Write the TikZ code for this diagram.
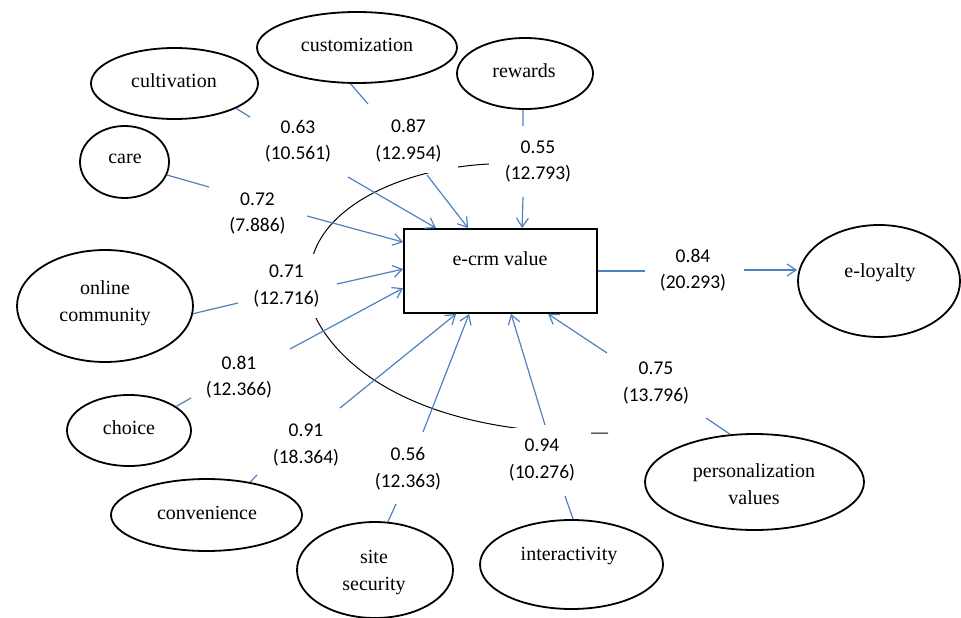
\documentclass[tikz,border=0pt]{standalone}
\usepackage{fontspec}
\setmainfont{Liberation Serif}
\newfontfamily\labfont{Carlito}
\usetikzlibrary{shapes.geometric,arrows.meta,calc}
\definecolor{pathblue}{RGB}{79,129,189}
\begin{document}
\begin{tikzpicture}[x=1pt,y=-1pt,
  latent/.style={ellipse,draw=black,line width=1.8pt,inner sep=0pt},
  ltext/.style={inner sep=0pt,align=center,font=\fontsize{20}{27}\selectfont},
  coef/.style={fill=white,inner xsep=16pt,inner ysep=11pt,align=center,
    font=\labfont\fontsize{19.5}{26.5}\selectfont},
  seg/.style={draw=pathblue,line width=1.2pt},
  effect/.style={seg,-{Straight Barb[length=9pt,width=12pt]}},
  covarc/.style={draw=black,line width=1pt}]
\useasboundingbox (0,0) rectangle (961,618);

% covariance arc (partly hidden by the coefficient labels)
\draw[covarc] (489,164) .. controls (410,168) and (335,200) .. (315,250)
  .. controls (307,270) and (307,302) .. (318,322)
  .. controls (350,380) and (440,436) .. (608,433);

% coefficient labels
\node[coef] (l63) at (298,141.5) {0.63\\(10.561)};
\node[coef] (l87) at (408.5,140.5) {0.87\\(12.954)};
\node[coef] (l55) at (538,161.5) {0.55\\(12.793)};
\node[coef] (l72) at (257.5,213.5) {0.72\\(7.886)};
\node[coef] (l71) at (286.5,286) {0.71\\(12.716)};
\node[coef] (l84) at (693,270) {0.84\\(20.293)};
\node[coef] (l81) at (239,377) {0.81\\(12.366)};
\node[coef] (l91) at (306,445) {0.91\\(18.364)};
\node[coef] (l56) at (408,469) {0.56\\(12.363)};
\node[coef] (l94) at (542,460) {0.94\\(10.276)};
\node[coef] (l75) at (656,383) {0.75\\(13.796)};

% latent variables
\node[latent,minimum width=200pt,minimum height=71pt] (cust) at (357,47.5) {};
\node[latent,minimum width=167pt,minimum height=71pt] (cult) at (174.5,83.5) {};
\node[latent,minimum width=89pt,minimum height=72pt] (care) at (124.5,162) {};
\node[latent,minimum width=136pt,minimum height=71pt] (rew) at (525,73.5) {};
\node[latent,minimum width=176pt,minimum height=112pt] (onl) at (105,306) {};
\node[latent,minimum width=124pt,minimum height=71pt] (cho) at (129,430.5) {};
\node[latent,minimum width=191pt,minimum height=72pt] (conv) at (206.5,515) {};
\node[latent,minimum width=156pt,minimum height=96pt] (site) at (375,570) {};
\node[latent,minimum width=183pt,minimum height=89pt] (inter) at (571.5,564.5) {};
\node[latent,minimum width=219pt,minimum height=96pt] (pers) at (754.5,482) {};
\node[latent,minimum width=162pt,minimum height=112pt] (eloy) at (879,281) {};

\node[ltext] (custt) at (357,44.5) {customization};
\node[ltext] (cultt) at (174,80.5) {cultivation};
\node[ltext] (caret) at (125,158.5) {care};
\node[ltext] (rewt) at (524,70.5) {rewards};
\node[ltext] (onlt) at (105,303) {online\\community};
\node[ltext] (chot) at (129,427.5) {choice};
\node[ltext] (convt) at (207,512.5) {convenience};
\node[ltext] (sitet) at (374,573) {site\\security};
\node[ltext] (intert) at (569,556.5) {interactivity};
\node[ltext] (perst) at (754,484) {personalization\\values};
\node[ltext] (eloyt) at (880,272.5) {e-loyalty};

% e-crm value box
\node[draw=black,line width=1.8pt,minimum width=193pt,minimum height=84pt,inner sep=0pt] (crm) at (500.5,271) {};
\node[ltext] (crmt) at (500,259) {e-crm value};

% free ends of the broken paths
\coordinate (a63) at (250,117);   \coordinate (b63) at (348,177);
\coordinate (a87) at (368,104);   \coordinate (b87) at (427,175);
\coordinate (a55) at (523,126);   \coordinate (b55) at (523,197);
\coordinate (a72) at (209,187);   \coordinate (b72) at (307,216);
\coordinate (a71) at (238,303);   \coordinate (b71) at (337,284);
\coordinate (a81) at (191,398);   \coordinate (b81) at (290,349);
\coordinate (a91) at (257,475);   \coordinate (b91) at (340,408);
\coordinate (a56) at (396,504);   \coordinate (b56) at (423,432);
\coordinate (a94) at (565,496);   \coordinate (b94) at (545,425);
\coordinate (a75) at (706,418);   \coordinate (b75) at (607,353);
\coordinate (a84) at (645,271);   \coordinate (b84) at (744,270);

% paths
\draw[seg] (cult.338) -- (a63);  \draw[effect] (b63) -- ($(crm.north west)+(33,0)$);
\draw[seg] (cust.260) -- (a87);  \draw[effect] (b87) -- ($(crm.north west)+(65,0)$);
\draw[seg] (rew.267) -- (a55);   \draw[effect] (b55) -- ($(crm.north west)+(119,0)$);
\draw[seg] (care.343) -- (a72);  \draw[effect] (b72) -- ($(crm.north west)+(0,14)$);
\draw[seg] (onl.355) -- (a71);   \draw[effect] (b71) -- ($(crm.north west)+(0,41)$);
\draw[seg] (cho.27) -- (a81);    \draw[effect] (b81) -- ($(crm.north west)+(0,60)$);
\draw[seg] (conv.37) -- (a91);   \draw[effect] (b91) -- ($(crm.south west)+(53,0)$);
\draw[seg] (site.75) -- (a56);   \draw[effect] (b56) -- ($(crm.south west)+(66,0)$);
\draw[seg] (inter.88) -- (a94);  \draw[effect] (b94) -- ($(crm.south west)+(108,0)$);
\draw[seg] (pers.117) -- (a75);  \draw[effect] (b75) -- ($(crm.south west)+(145,0)$);
\draw[seg] (crm.east) -- (a84);  \draw[effect] (b84) -- (b84 -| eloy.west);
\end{tikzpicture}
\end{document}
